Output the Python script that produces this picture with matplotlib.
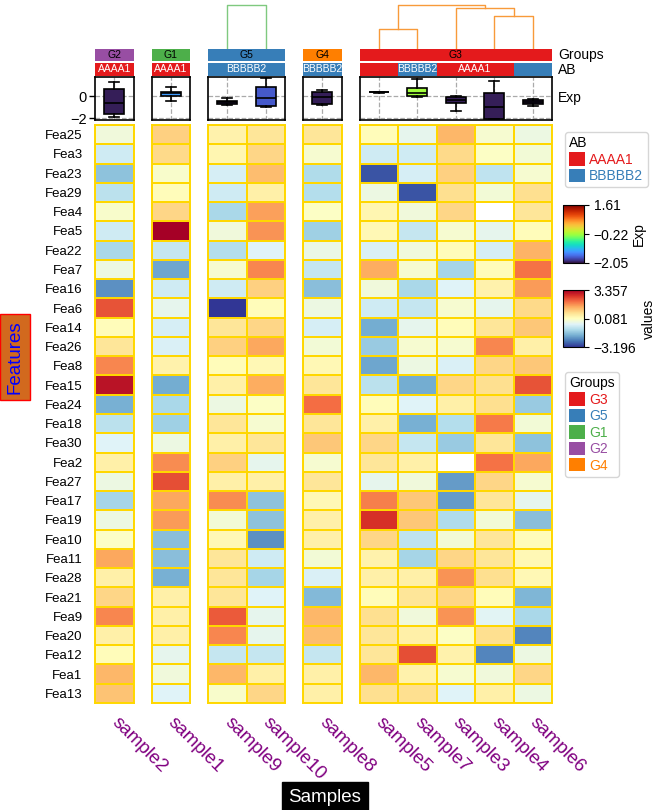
import numpy as np
import matplotlib
matplotlib.use('Agg')
import matplotlib.pyplot as plt
from matplotlib.cm import ScalarMappable
from matplotlib.colors import Normalize
from matplotlib.patches import Patch

plt.rcParams['font.family'] = ['Liberation Sans', 'DejaVu Sans']

# ---- data ----
samples = ['sample2', 'sample1', 'sample9', 'sample10', 'sample8',
           'sample5', 'sample7', 'sample3', 'sample4', 'sample6']
sample_groups = ['G2', 'G1', 'G5', 'G5', 'G4', 'G3', 'G3', 'G3', 'G3', 'G3']
sample_ab = ['AAAA1', 'AAAA1', 'BBBBB2', 'BBBBB2', 'BBBBB2',
             'AAAA1', 'BBBBB2', 'AAAA1', 'AAAA1', 'BBBBB2']

features = ['Fea25', 'Fea3', 'Fea23', 'Fea29', 'Fea4', 'Fea5', 'Fea22', 'Fea7',
            'Fea16', 'Fea6', 'Fea14', 'Fea26', 'Fea8', 'Fea15', 'Fea24', 'Fea18',
            'Fea30', 'Fea2', 'Fea27', 'Fea17', 'Fea19', 'Fea10', 'Fea11', 'Fea28',
            'Fea21', 'Fea9', 'Fea20', 'Fea12', 'Fea1', 'Fea13']

nan = np.nan
# one row per feature, columns in the order of `samples`
heat_values = [
    [-0.25, 0.93, 0.34, 0.61, 0.61, 0.15, -0.44, 1.26, -0.12, -0.31],
    [-0.77, 0.80, 0.28, 0.87, -0.12, -0.77, -0.77, 0.80, 0.02, -0.18],
    [-1.56, -0.05, -0.71, 1.20, -1.17, -2.87, -0.71, 0.93, -0.97, -0.12],
    [-1.03, 0.15, -0.77, 0.41, -1.10, -0.31, -2.87, 0.74, -0.18, 0.74],
    [-0.05, 0.87, -1.23, 1.52, 0.02, 0.28, -0.25, 0.87, nan, 0.61],
    [-0.77, 3.357, -0.25, 1.65, -1.36, 0.21, -0.90, -0.12, -0.44, 0.15],
    [-1.23, -0.90, -1.10, -0.58, -0.38, -0.64, -0.25, 0.15, -0.71, 1.33],
    [-0.31, -1.95, -0.12, 1.78, -0.90, 1.39, -0.12, -1.30, 0.15, 1.98],
    [-2.21, -0.77, -0.77, 0.93, -1.62, -0.25, -1.23, -0.58, 0.34, 1.59],
    [2.31, -0.44, -3.196, 0.15, -0.31, -0.77, -0.90, -0.12, -0.44, 0.80],
    [0.15, -0.71, 0.61, 0.87, -0.71, -1.89, -0.44, 0.15, 0.61, 1.06],
    [0.61, -0.64, 0.93, 1.46, -0.18, -1.43, -0.12, -0.12, 1.78, 0.41],
    [1.78, 0.34, 0.15, 0.21, 0.21, -1.95, -0.31, -0.64, 0.87, 1.06],
    [3.10, -1.89, 0.41, 1.39, 0.61, -1.03, -1.89, 0.87, 0.74, 2.31],
    [-1.82, -1.23, -0.31, 0.02, 2.05, 0.15, -0.58, 0.41, 0.74, -1.43],
    [-1.03, -1.36, 0.61, -0.12, 0.61, 0.41, -1.82, -1.10, 1.92, -0.18],
    [-0.58, -0.31, 0.41, 0.61, 1.06, 0.87, -0.90, -1.43, 0.61, -1.56],
    [0.41, 1.72, 0.93, -0.44, -0.12, 0.61, 0.41, nan, 1.98, 1.46],
    [-0.31, 2.37, 0.41, 0.41, 0.61, -0.44, -0.25, -2.08, 0.87, -0.12],
    [-1.30, 1.46, 1.72, -1.56, 0.21, 1.85, 1.06, -2.08, 0.61, -0.44],
    [-0.31, 1.59, -0.18, -1.56, 0.41, 2.70, 1.06, -1.17, -0.18, -1.62],
    [0.02, -1.62, 0.21, -2.21, 0.41, 0.87, -0.97, -0.18, 0.61, 0.15],
    [1.46, -1.62, 0.61, -0.77, -0.18, 0.34, -1.30, 0.87, 0.61, 0.21],
    [0.41, -1.82, 0.61, -1.30, -0.64, 0.41, 0.41, 1.65, 0.74, 0.21],
    [0.87, 0.41, 0.61, -0.58, -1.69, 0.15, 0.61, 0.87, 0.15, -1.75],
    [1.78, 0.41, 2.24, -0.44, 1.26, 0.74, -0.25, 1.65, -0.51, -1.23],
    [0.41, 0.41, 1.78, -0.44, 1.20, 0.61, 0.41, 0.02, 0.74, -2.34],
    [0.15, -0.44, -0.90, -0.90, -0.90, 0.61, 2.37, 0.34, -2.34, -0.31],
    [1.26, -0.25, 1.26, 0.41, 0.41, 1.26, 0.34, -0.12, -0.25, 0.87],
    [1.13, -0.58, -0.05, 0.87, 0.41, 0.74, 0.74, -0.58, 0.41, -0.31],
]

# boxplot annotation "Exp" (per sample)
exp_whislo = [-1.85, -0.48, -0.79, -1.03, -0.85, 0.31, -0.12, -1.39, -2.05, -0.94]
exp_q1 = [-1.64, 0.00, -0.73, -0.94, -0.73, 0.33, 0.00, -0.67, -2.05, -0.73]
exp_med = [-0.67, 0.24, -0.58, -0.21, -0.12, 0.36, 0.24, -0.36, -1.03, -0.55]
exp_q3 = [0.60, 0.39, -0.45, 0.79, 0.39, 0.39, 0.70, -0.12, 0.27, -0.33]
exp_whishi = [1.30, 0.79, -0.15, 1.61, 0.55, 0.41, 1.58, 0.00, 1.33, -0.30]
box_color_values = [-1.98, -1.32, -1.98, -1.68, -1.98, -1.98, -0.22, -1.98, -1.98, -1.98]

group_colors = {'G3': '#E41A1C', 'G5': '#377EB8', 'G1': '#4DAF4A',
                'G2': '#984EA3', 'G4': '#FF7F00'}
ab_colors = {'AAAA1': '#E41A1C', 'BBBBB2': '#377EB8'}

# column dendrograms inside groups: (child a, child b, height), scipy-like ids
dendro_links = {'G5': [(0, 1, 1.0)],
                'G3': [(0, 1, 0.46), (3, 4, 0.76), (2, 6, 0.93), (5, 7, 1.0)]}
dendro_colors = {'G5': '#7fc97f', 'G3': '#f89a3a'}

# ---- figure ----
W, H = 655, 810
fig = plt.figure(figsize=(W / 100, H / 100), dpi=100)


def px_axes(x0, y0, x1, y1):
    return fig.add_axes([x0 / W, 1 - y1 / H, (x1 - x0) / W, (y1 - y0) / H])


def draw_dendro(ax, links, n, color):
    xs = {i: i + 0.5 for i in range(n)}
    hs = {i: 0.0 for i in range(n)}
    for k, (a, b, h) in enumerate(links):
        ax.plot([xs[a], xs[a], xs[b], xs[b]], [hs[a], h, h, hs[b]],
                color=color, lw=1.0)
        xs[n + k] = (xs[a] + xs[b]) / 2
        hs[n + k] = h


def runs(labels):
    out = []
    start = 0
    for i in range(1, len(labels) + 1):
        if i == len(labels) or labels[i] != labels[start]:
            out.append((labels[start], start, i))
            start = i
    return out


data = np.array(heat_values, dtype=float)
hnorm = Normalize(np.nanmin(data), np.nanmax(data))
emin, emax = min(exp_whislo), max(exp_whishi)
enorm = Normalize(emin, emax)
turbo = plt.get_cmap('turbo')
epad = (emax - emin) * 0.03

group_order = list(dict.fromkeys(sample_groups))
col_w, gap = 38.5, 18
cursor = 95
for gi, grp in enumerate(group_order):
    idx = [i for i, g in enumerate(sample_groups) if g == grp]
    n = len(idx)
    x0, x1 = cursor, cursor + n * col_w
    cursor = x1 + gap

    # heatmap
    ax = px_axes(x0, 125, x1, 703)
    sub = np.ma.masked_invalid(data[:, idx])
    ax.pcolormesh(sub, cmap='RdYlBu_r', norm=hnorm, edgecolors='gold', linewidth=1.4)
    ax.set_xlim(0, n)
    ax.set_ylim(len(features), 0)
    for s in ax.spines.values():
        s.set_color('gold')
        s.set_linewidth(1.4)
    ax.set_xticks(np.arange(n) + 0.5)
    ax.set_xticklabels([samples[i] for i in idx], rotation=-45, ha='left', va='center',
                       rotation_mode='anchor', color='purple', fontsize=13.5)
    ax.tick_params(axis='x', length=0, pad=12)
    if gi == 0:
        ax.set_yticks(np.arange(len(features)) + 0.5)
        ax.set_yticklabels(features, fontsize=9.5)
        ax.tick_params(axis='y', length=0, pad=9)
    else:
        ax.set_yticks([])

    # boxplot annotation
    bx = px_axes(x0, 77, x1, 120)
    stats = [dict(med=exp_med[i], q1=exp_q1[i], q3=exp_q3[i], whislo=exp_whislo[i],
                  whishi=exp_whishi[i], fliers=[]) for i in idx]
    bp = bx.bxp(stats, positions=np.arange(n) + 0.5, widths=0.52, patch_artist=True,
                showfliers=False,
                boxprops=dict(edgecolor='black', linewidth=1.2),
                medianprops=dict(color='black', linewidth=1.2),
                whiskerprops=dict(color='black', linewidth=1.2),
                capprops=dict(color='black', linewidth=1.2))
    for patch, i in zip(bp['boxes'], idx):
        patch.set_facecolor(turbo(enorm(box_color_values[i])))
    bx.set_xlim(0, n)
    bx.set_ylim(emin - epad, emax + epad)
    bx.set_xticks(np.arange(n) + 0.5)
    bx.set_yticks([-2, 0])
    bx.grid(True, ls='--', color='#aaaaaa', lw=0.9)
    bx.set_axisbelow(True)
    bx.tick_params(axis='x', length=0, labelbottom=False)
    for s in bx.spines.values():
        s.set_linewidth(1.2)
    if gi == 0:
        bx.tick_params(axis='y', labelsize=10.5, length=4, width=1, pad=2)
    else:
        bx.tick_params(axis='y', length=0, labelleft=False)

    # AB bar
    abx = px_axes(x0, 63, x1, 76)
    labs = [sample_ab[i] for i in idx]
    abx.bar(np.arange(n) + 0.5, 1, width=1, color=[ab_colors[l] for l in labs], lw=0)
    shown = {}
    for lab, a, b in runs(labs):
        if lab not in shown or (b - a) > (shown[lab][1] - shown[lab][0]):
            shown[lab] = (a, b)
    for lab, (a, b) in shown.items():
        abx.text((a + b) / 2, 0.5, lab, ha='center', va='center', color='white', fontsize=7.5)
    abx.set_xlim(0, n)
    abx.set_ylim(0, 1)
    abx.axis('off')

    # Groups bar
    gx = px_axes(x0, 49, x1, 61)
    gx.bar(np.arange(n) + 0.5, 1, width=1, color=group_colors[grp], lw=0)
    gx.text(n / 2, 0.5, grp, ha='center', va='center', color='black', fontsize=7.5)
    gx.set_xlim(0, n)
    gx.set_ylim(0, 1)
    gx.axis('off')

    # dendrogram
    if grp in dendro_links:
        dx = px_axes(x0, 0, x1, 48.5)
        draw_dendro(dx, dendro_links[grp], n, dendro_colors[grp])
        dx.set_xlim(0, n)
        dx.set_ylim(0, 1.124)
        dx.axis('off')

# track names on the right
for name, yc in [('Groups', 55), ('AB', 69.5), ('Exp', 98)]:
    fig.text(558 / W, 1 - yc / H, name, ha='left', va='center', fontsize=10)

# colorbars
cax = px_axes(563, 205, 584, 263)
cb = fig.colorbar(ScalarMappable(norm=enorm, cmap='turbo'), cax=cax)
eticks = [emin, (emin + emax) / 2, emax]
cb.set_ticks(eticks)
cb.set_ticklabels([f'{v:.2f}'.replace('-', '\u2212') for v in eticks])
cb.ax.tick_params(labelsize=10)
cb.set_label('Exp', fontsize=10, labelpad=2)

vax = px_axes(563, 290, 584, 347)
cb2 = fig.colorbar(ScalarMappable(norm=hnorm, cmap='RdYlBu_r'), cax=vax)
vticks = [hnorm.vmin, (hnorm.vmin + hnorm.vmax) / 2, hnorm.vmax]
cb2.set_ticks(vticks)
cb2.set_ticklabels([f'{v:.3f}'.replace('-', '\u2212') for v in vticks])
cb2.ax.tick_params(labelsize=10)
cb2.set_label('values', fontsize=10, labelpad=4)

# legends
leg_kw = dict(loc='upper left', fontsize=10, title_fontsize=10, alignment='left',
              handlelength=1.15, handleheight=1.1, handletextpad=0.3, labelspacing=0.15,
              borderpad=0.3, borderaxespad=0, frameon=True)
ab_handles = [Patch(facecolor=c, label=k) for k, c in ab_colors.items()]
leg1 = fig.legend(handles=ab_handles, title='AB', bbox_to_anchor=(565 / W, 1 - 132 / H), **leg_kw)
for t, c in zip(leg1.get_texts(), ab_colors.values()):
    t.set_color(c)

g_handles = [Patch(facecolor=c, label=k) for k, c in group_colors.items()]
leg2 = fig.legend(handles=g_handles, title='Groups', bbox_to_anchor=(565 / W, 1 - 372 / H), **leg_kw)
for t, c in zip(leg2.get_texts(), group_colors.values()):
    t.set_color(c)

# axis titles
fig.text(15 / W, 1 - 357 / H, 'Features', rotation=90, ha='center', va='center',
         color='blue', fontsize=13.5,
         bbox=dict(facecolor='#D2691E', edgecolor='red', pad=4.5))
fig.text(325 / W, 1 - 797 / H, 'Samples', ha='center', va='center',
         color='white', fontsize=13.5,
         bbox=dict(facecolor='black', edgecolor='black', pad=5))

fig.savefig('out.png', dpi=100)
